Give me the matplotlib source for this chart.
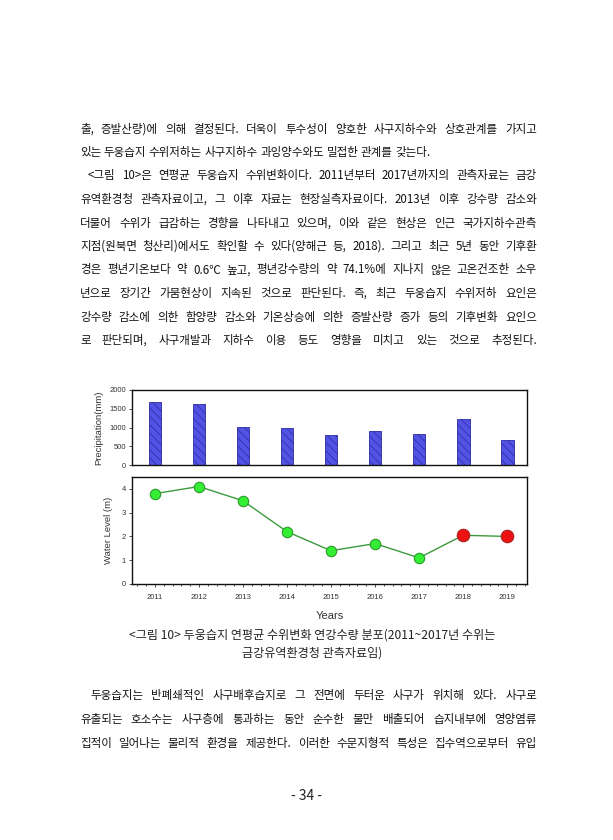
import numpy as np
import matplotlib
matplotlib.use("Agg")
import matplotlib.pyplot as plt
from matplotlib.ticker import MultipleLocator

plt.rcParams['font.family'] = ['Noto Sans CJK KR', 'DejaVu Sans']
plt.rcParams['hatch.linewidth'] = 0.5

# Data
years = [2011, 2012, 2013, 2014, 2015, 2016, 2017, 2018, 2019]
precip = [1690, 1630, 1020, 995, 810, 905, 818, 1218, 660]
water_level = [3.8, 4.1, 3.5, 2.2, 1.4, 1.7, 1.1, 2.05, 2.0]
observed = [True, True, True, True, True, True, True, False, False]

para1 = [
    "출, 증발산량)에 의해 결정된다. 더욱이 투수성이 양호한 사구지하수와 상호관계를 가지고",
    "있는 두웅습지 수위저하는 사구지하수 과잉양수와도 밀접한 관계를 갖는다.",
]
para2 = [
    "<그림 10>은 연평균 두웅습지 수위변화이다. 2011년부터 2017년까지의 관측자료는 금강",
    "유역환경청 관측자료이고, 그 이후 자료는 현장실측자료이다. 2013년 이후 강수량 감소와",
    "더불어 수위가 급감하는 경향을 나타내고 있으며, 이와 같은 현상은 인근 국가지하수관측",
    "지점(원북면 청산리)에서도 확인할 수 있다(양해근 등, 2018). 그리고 최근 5년 동안 기후환",
    "경은 평년기온보다 약 0.6℃ 높고, 평년강수량의 약 74.1%에 지나지 않은 고온건조한 소우",
    "년으로 장기간 가뭄현상이 지속된 것으로 판단된다. 즉, 최근 두웅습지 수위저하 요인은",
    "강수량 감소에 의한 함양량 감소와 기온상승에 의한 증발산량 증가 등의 기후변화 요인으",
    "로 판단되며, 사구개발과 지하수 이용 등도 영향을 미치고 있는 것으로 추정된다.",
]
para3 = [
    "두웅습지는 반폐쇄적인 사구배후습지로 그 전면에 두터운 사구가 위치해 있다. 사구로",
    "유출되는 호소수는 사구층에 통과하는 동안 순수한 물만 배출되어 습지내부에 영양염류",
    "집적이 일어나는 물리적 환경을 제공한다. 이러한 수문지형적 특성은 집수역으로부터 유입",
]
caption = ["<그림 10> 두웅습지 연평균 수위변화 연강수량 분포(2011~2017년 수위는",
           "금강유역환경청 관측자료임)"]

W, H = 613, 840
fig = plt.figure(figsize=(W / 100, H / 100), dpi=100)
fig.patch.set_facecolor("white")
renderer = fig.canvas.get_renderer()

LEFT, RIGHT = 80, 537
BODY = 8.3


def fx(x):
    return x / W


def fy(y):
    return 1 - y / H


def put_line(text, y, indent=0, justify=True):
    words = text.split(" ")
    objs = [fig.text(0, fy(y), w, fontsize=BODY, va="center", ha="left",
                     color="#111111") for w in words]
    widths = [o.get_window_extent(renderer).width for o in objs]
    x0 = LEFT + indent
    space = renderer.points_to_pixels(BODY) * 0.22
    if justify and len(words) > 1:
        gap = (RIGHT - x0 - sum(widths)) / (len(words) - 1)
    else:
        gap = space
    x = x0
    for o, w in zip(objs, widths):
        o.set_x(fx(x))
        x += w + gap


y = 129
step = 23.5
put_line(para1[0], y)
put_line(para1[1], y + step, justify=False)
y += 2 * step
for i, line in enumerate(para2):
    put_line(line, y + i * step, indent=8 if i == 0 else 0)

# Chart
ax1 = fig.add_axes([fx(132), fy(465), fx(527) - fx(132), (465 - 390) / H])
ax2 = fig.add_axes([fx(132), fy(584), fx(527) - fx(132), (584 - 477) / H])

ax1.bar(years, precip, width=0.29, color="#5252e4", edgecolor="#2a2aa0",
        linewidth=0.6, hatch="\\\\\\\\")
ax1.set_xlim(2010.48, 2019.45)
ax1.set_ylim(0, 2000)
ax1.set_yticks([0, 500, 1000, 1500, 2000])
ax1.set_xticks([])
ax1.set_ylabel("Precipitation(mm)", fontsize=6.8, family="Liberation Sans",
               color="#333333", labelpad=4)

ax2.plot(years, water_level, color="#3c9a3c", linewidth=1.0, zorder=2)
for yr, wl, ob in zip(years, water_level, observed):
    if ob:
        ax2.plot(yr, wl, "o", markersize=7.5, markerfacecolor="#33ee33",
                 markeredgecolor="#2a9a2a", markeredgewidth=0.8, zorder=3)
    else:
        ax2.plot(yr, wl, "o", markersize=9, markerfacecolor="#ee1111",
                 markeredgecolor="#aa2222", markeredgewidth=0.8, zorder=3)
ax2.set_xlim(2010.48, 2019.45)
ax2.set_ylim(0, 4.5)
ax2.set_yticks([0, 1, 2, 3, 4])
ax2.set_xticks(years)
ax2.xaxis.set_minor_locator(MultipleLocator(0.2))
ax2.set_ylabel("Water Level (m)", fontsize=6.8, family="Liberation Sans",
               color="#333333", labelpad=6)
ax2.set_xlabel("Years", fontsize=8, family="Liberation Sans",
               color="#333333", labelpad=7)

for ax in (ax1, ax2):
    for s in ax.spines.values():
        s.set_linewidth(1.0)
        s.set_color("#111111")
    ax.tick_params(axis="both", which="major", labelsize=5.5, length=2.5,
                   width=0.6, colors="#333333", pad=2)
    for lab in ax.get_xticklabels() + ax.get_yticklabels():
        lab.set_family("Liberation Sans")
ax2.tick_params(axis="x", which="minor", length=1.2, width=0.5)
ax2.tick_params(axis="x", which="major", pad=5)

# Caption
fig.text(fx(312), fy(635), caption[0], fontsize=8.7, ha="center", va="center",
         color="#222222")
fig.text(fx(312), fy(653), caption[1], fontsize=8.7, ha="center", va="center",
         color="#222222")

y = 695
for i, line in enumerate(para3):
    put_line(line, y + i * 24.2, indent=10 if i == 0 else 0)

fig.text(fx(307), fy(796), "- 34 -", fontsize=10, ha="center", va="center",
         color="#222222")

fig.savefig("out.png", dpi=100, facecolor="white")
